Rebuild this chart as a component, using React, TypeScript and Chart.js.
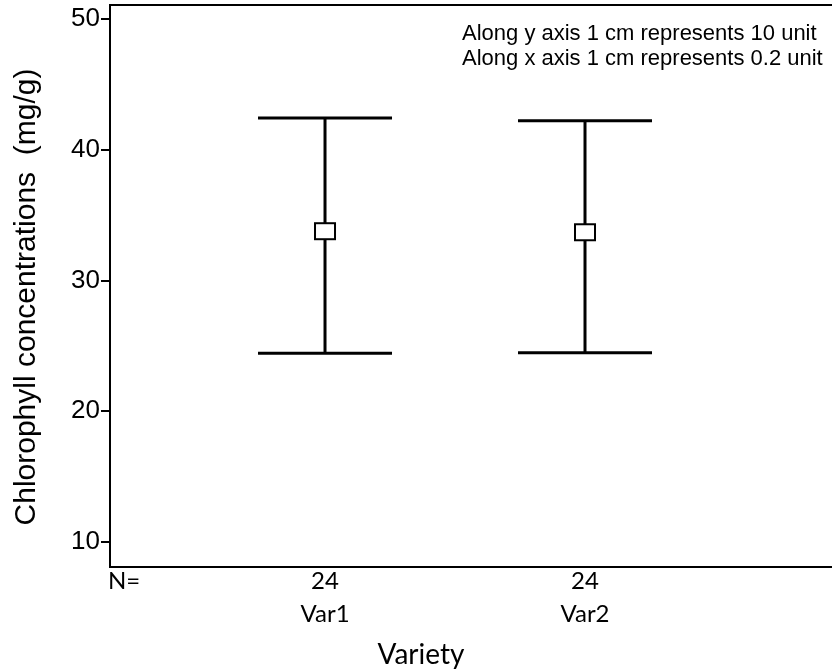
import React, { useEffect, useRef } from "react";
import { Chart, registerables } from "chart.js";

Chart.register(...registerables);

const categories = ["Var1", "Var2"];
const counts = [24, 24];
const means = [33.77, 33.69];
const lowerCI = [24.44, 24.47];
const upperCI = [42.43, 42.22];
const yTicks = [10, 20, 30, 40, 50];
const notes = [
  "Along y axis 1 cm represents 10 unit",
  "Along x axis 1 cm represents 0.2 unit",
];
const yTitle = "Chlorophyll concentrations  (mg/g)";
const xTitle = "Variety";

const drawPlugin = {
  id: "errorBarsAndText",
  afterDraw(chart: any) {
    const { ctx, chartArea, scales } = chart;
    const xs = scales.x;
    const ys = scales.y;
    ctx.save();
    // top border
    ctx.strokeStyle = "#000";
    ctx.lineWidth = 2;
    ctx.beginPath();
    ctx.moveTo(chartArea.left - 1, chartArea.top);
    ctx.lineTo(chartArea.right, chartArea.top);
    ctx.stroke();

    categories.forEach((c, i) => {
      const px = xs.getPixelForValue(i + 1);
      const pu = ys.getPixelForValue(upperCI[i]);
      const pl = ys.getPixelForValue(lowerCI[i]);
      const pm = ys.getPixelForValue(means[i]);
      ctx.lineWidth = 3;
      ctx.strokeStyle = "#000";
      ctx.beginPath();
      ctx.moveTo(px, pu);
      ctx.lineTo(px, pl);
      ctx.moveTo(px - 67, pu);
      ctx.lineTo(px + 67, pu);
      ctx.moveTo(px - 67, pl);
      ctx.lineTo(px + 67, pl);
      ctx.stroke();
      ctx.fillStyle = "#fff";
      ctx.fillRect(px - 10, pm - 8, 20, 16);
      ctx.lineWidth = 2;
      ctx.strokeRect(px - 10, pm - 8, 20, 16);

      ctx.fillStyle = "#000";
      ctx.font = "24px Lato";
      ctx.textAlign = "center";
      ctx.textBaseline = "middle";
      ctx.fillText(String(counts[i]), px, 581);
      ctx.fillText(c, px, 614);
    });

    ctx.fillStyle = "#000";
    ctx.textBaseline = "middle";
    ctx.textAlign = "left";
    ctx.font = "24px Lato";
    ctx.fillText("N=", 108, 581);
    ctx.textAlign = "center";
    ctx.font = "28px Lato";
    ctx.fillText(xTitle, 421, 655);

    ctx.textAlign = "left";
    ctx.font = "22px 'Liberation Sans'";
    ctx.fillText(notes[0], 462, 34);
    ctx.fillText(notes[1], 462, 59);

    ctx.save();
    ctx.translate(27, 297);
    ctx.rotate(-Math.PI / 2);
    ctx.textAlign = "center";
    ctx.font = "30px 'Liberation Sans'";
    ctx.fillText(yTitle, 0, 0);
    ctx.restore();

    ctx.restore();
  },
};

export default function App() {
  const ref = useRef<HTMLCanvasElement>(null);
  useEffect(() => {
    if (!ref.current) return;
    const chart = new Chart(ref.current, {
      type: "scatter",
      data: {
        datasets: [
          {
            data: categories.map((c, i) => ({ x: i + 1, y: means[i] })),
            pointRadius: 0,
            showLine: false,
          },
        ],
      },
      options: {
        animation: false,
        responsive: false,
        layout: { padding: { top: 5, left: 0, right: 0, bottom: 0 } },
        plugins: { legend: { display: false }, tooltip: { enabled: false } },
        scales: {
          x: {
            type: "linear",
            min: 0.173,
            max: 2.95,
            ticks: { display: false },
            grid: { display: false },
            border: { display: true, color: "#000", width: 2 },
            afterFit: (axis: any) => {
              axis.height = 105;
              axis.paddingLeft = 0;
              axis.paddingRight = 0;
            },
          },
          y: {
            type: "linear",
            min: 8.09,
            max: 51.07,
            afterBuildTicks: (axis: any) => {
              axis.ticks = yTicks.map((v) => ({ value: v }));
            },
            ticks: {
              color: "#000",
              padding: 1,
              font: { family: "'Liberation Sans'", size: 26 },
            },
            grid: {
              drawOnChartArea: false,
              drawTicks: true,
              tickLength: 9,
              color: "#000",
              lineWidth: 2,
            },
            border: { display: true, color: "#000", width: 2 },
            afterFit: (axis: any) => {
              axis.width = 110;
              axis.paddingTop = 0;
              axis.paddingBottom = 0;
            },
          },
        },
      },
      plugins: [drawPlugin],
    });
    return () => chart.destroy();
  }, []);
  return (
    <div style={{ position: "absolute", left: 0, top: 0, width: 832, height: 672, background: "#fff" }}>
      <canvas ref={ref} width={832} height={672} />
    </div>
  );
}
